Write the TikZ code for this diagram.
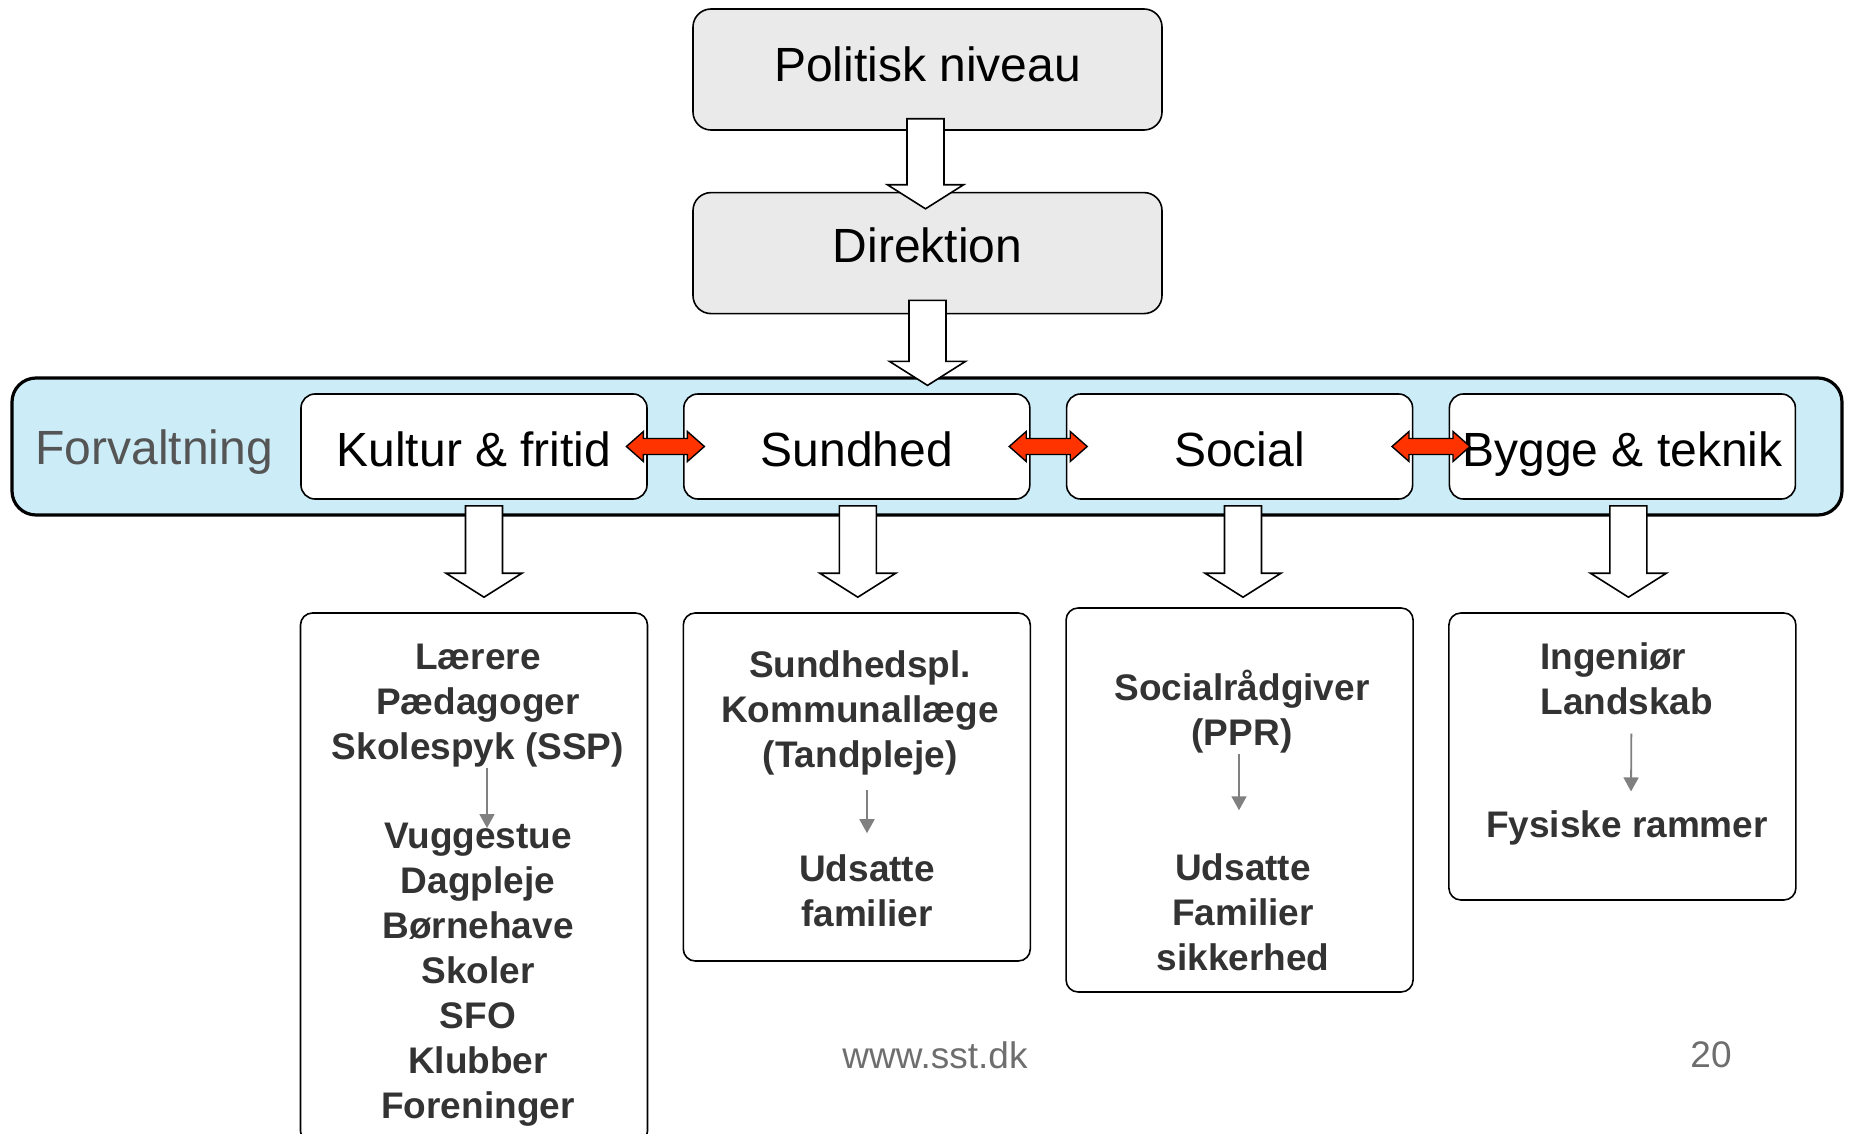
\documentclass[tikz,border=0pt]{standalone}
\usepackage{fontspec}
\setmainfont{Liberation Sans}
\usetikzlibrary{positioning,calc,arrows.meta}

\definecolor{boxgray}{HTML}{EAEAEA}
\definecolor{bandblue}{HTML}{CCECF8}
\definecolor{arrowred}{HTML}{FF3300}
\definecolor{labelgray}{HTML}{555555}
\definecolor{subtext}{HTML}{333333}
\definecolor{linkgray}{HTML}{808080}
\definecolor{footgray}{HTML}{6E6E6E}

% shift a label up or down, keeping its size
\newcommand{\nudge}[2]{\raisebox{#1}[\height][\depth]{#2}}

% hollow block arrow pointing down, tail #1, tip #2
\newcommand{\blockarrow}[2]{%
  \draw[hollow arrow] let \p1=(#1), \p2=(#2) in
    (\x1-9.25pt,\y1) -- (\x1-9.25pt,\y2+12pt) -- (\x1-19pt,\y2+12pt) -- (\x1,\y2)
    -- (\x1+19pt,\y2+12pt) -- (\x1+9.25pt,\y2+12pt) -- (\x1+9.25pt,\y1) -- cycle;}

% red double arrow in the gap between two nodes
\newcommand{\linkarrow}[2]{%
  \draw[red arrow] let \p1=($(#1.east)!.5!(#2.west)$) in
    (\x1-19.5pt,\y1) -- (\x1-11pt,\y1+7.5pt) -- (\x1-11pt,\y1+4pt) -- (\x1+11pt,\y1+4pt)
    -- (\x1+11pt,\y1+7.5pt) -- (\x1+19.5pt,\y1) -- (\x1+11pt,\y1-7.5pt) -- (\x1+11pt,\y1-4pt)
    -- (\x1-11pt,\y1-4pt) -- (\x1-11pt,\y1-7.5pt) -- cycle;}

\begin{document}
\begin{tikzpicture}[x=0.5pt,y=-0.5pt,
    top node/.style={draw,rounded corners=9pt,fill=boxgray,line width=0.8pt,
      minimum width=234.5pt,minimum height=60.5pt,inner sep=0pt,
      font=\fontsize{24}{28.8}\selectfont},
    dept node/.style={draw,rounded corners=7pt,fill=white,line width=0.8pt,
      minimum width=173pt,minimum height=52.5pt,inner sep=0pt,
      font=\fontsize{24}{28.8}\selectfont},
    sub node/.style={draw,rounded corners=6pt,line width=0.8pt,
      minimum width=173.5pt,inner sep=0pt},
    sub text/.style={inner sep=0pt,align=center,text=subtext,
      font=\fontsize{18.5}{22.5}\selectfont\bfseries},
    band/.style={draw,line width=1.6pt,rounded corners=12pt,fill=bandblue,
      minimum width=915pt,minimum height=68.5pt},
    hollow arrow/.style={draw=black,fill=white,line width=0.8pt},
    red arrow/.style={draw=black,fill=arrowred,line width=0.7pt},
    down link/.style={-{Triangle[length=7pt,width=7.5pt]},draw=linkgray,line width=0.9pt},
    footer/.style={inner sep=0pt,text=footgray,font=\fontsize{18.5}{22}\selectfont}]

  \useasboundingbox (0,0) rectangle (1849,1134);

  % levels
  \node[top node] (pol) at (927.5,69.5) {\nudge{2.5pt}{Politisk niveau}};
  \node[top node] (dir) [below=30.5pt of pol] {\nudge{4pt}{Direktion}};

  \node[band] (band) at (927,446.5) {};
  \node[dept node] (kultur) at (474,446.5) {\nudge{-1.2pt}{Kultur \& fritid}};
  \node[dept node] (sundhed) [right=17.6pt of kultur] {\nudge{-1.2pt}{Sundhed}};
  \node[dept node] (social) [right=17.6pt of sundhed] {\nudge{-1.2pt}{Social}};
  \node[dept node] (bygge) [right=17.6pt of social] {\nudge{-3.7pt}{Bygge \& teknik}};
  \node[inner sep=0pt,text=labelgray,font=\fontsize{24}{28.8}\selectfont]
    (forv) [left=13.5pt of kultur] {\nudge{-3pt}{Forvaltning}};

  % staff boxes
  \node[sub node,minimum height=265pt] (ksub) [below=56.2pt of kultur] {};
  \node[sub node,minimum height=174pt] (ssub) [below=56.2pt of sundhed] {};
  \node[sub node,minimum height=192pt] (sosub) [below=53.7pt of social] {};
  \node[sub node,minimum height=143.5pt] (bsub) [below=56.2pt of bygge] {};

  \node[sub text] (kup) at (478,705.6) {Lærere\\Pædagoger\\Skolespyk (SSP)};
  \node[sub text] (klow) at (478,974.6)
    {Vuggestue\\Dagpleje\\Børnehave\\Skoler\\SFO\\Klubber\\Foreninger};
  \node[sub text] (sup) at (860,712.6) {Sundhedspl.\\Kommunallæge\\(Tandpleje)};
  \node[sub text] (slow) at (867,891.2) {Udsatte\\familier};
  \node[sub text] (soup) at (1242,712) {Socialrådgiver\\(PPR)};
  \node[sub text] (solow) at (1243,912.75) {Udsatte\\Familier\\sikkerhed};
  \node[sub text,align=left,anchor=west] (bup) at (1540,679.25) {Ingeniør\\Landskab};
  \node[sub text] (blow) at (1627,827.6) {Fysiske rammer};

  \draw[down link] ([xshift=4.5pt]kup.south) -- ([xshift=4.5pt,yshift=-2.75pt]klow.north);
  \draw[down link] ([xshift=3.5pt,yshift=-7.6pt]sup.south) -- ([yshift=10.75pt]slow.north);
  \draw[down link] ([xshift=-1.5pt]soup.south) -- ([xshift=-2pt,yshift=21.75pt]solow.north);
  \draw[down link] ([xshift=2.3pt,yshift=-9pt]bup.south) -- ([xshift=2pt,yshift=9.25pt]blow.north);

  % block arrows
  \blockarrow{$(pol.south)+(-1pt,6pt)$}{$(dir.north)+(-1pt,-8.5pt)$}
  \blockarrow{$(dir.south)+(0,7pt)$}{$(band.north)+(0,-4.5pt)$}
  \blockarrow{$(kultur.south)+(5pt,-3pt)$}{$(ksub.north)+(5pt,7.5pt)$}
  \blockarrow{$(sundhed.south)+(0.5pt,-3pt)$}{$(ssub.north)+(0.5pt,7.5pt)$}
  \blockarrow{$(social.south)+(1.7pt,-3pt)$}{$(sosub.north)+(1.7pt,5pt)$}
  \blockarrow{$(bygge.south)+(3pt,-3pt)$}{$(bsub.north)+(3pt,7.5pt)$}

  \linkarrow{kultur}{sundhed}
  \linkarrow{sundhed}{social}
  \linkarrow{social}{bygge}

  \node[footer] (web) at (935,1055) {www.sst.dk};
  \node[footer] (page) at (1711,1055) {20};
\end{tikzpicture}
\end{document}
